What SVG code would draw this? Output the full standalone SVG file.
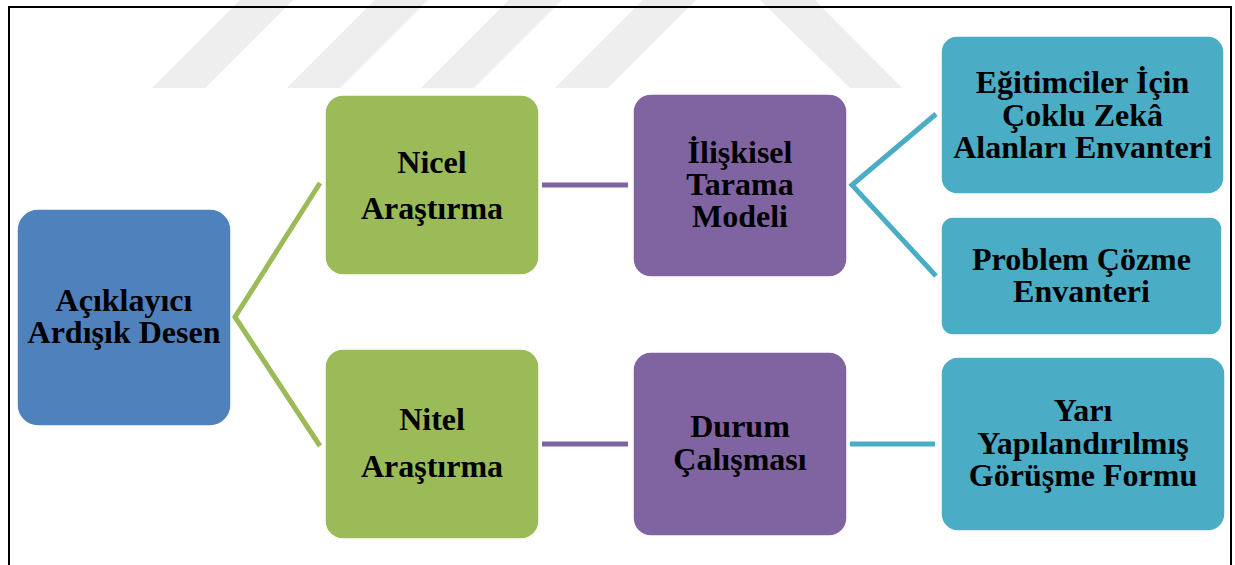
<svg xmlns="http://www.w3.org/2000/svg" width="1235" height="565" viewBox="0 0 1235 565">
<style>
.t{font-family:"Liberation Serif","Times New Roman",serif;font-weight:bold;font-size:32px;fill:#000;text-anchor:middle}
.box{stroke:#fff;stroke-width:1.5}
.wm{fill:#EEEEEE}
.frame{stroke:#000;stroke-width:2;fill:none}
.c{fill:none;stroke-width:5;stroke-linecap:butt;stroke-linejoin:miter}
</style>
<rect width="1235" height="565" fill="#fff"/>
<g id="watermark">
<polygon class="wm" points="152,88 205,88 293,0 240,0"/>
<polygon class="wm" points="287,88 340,88 428,0 375,0"/>
<polygon class="wm" points="421,88 474,88 562,0 509,0"/>
<polygon class="wm" points="555,88 608,88 696,0 643,0"/>
<polygon class="wm" points="850,88 902,88 815,0 760,0"/>
</g>
<path class="frame" d="M9,565 V7 H1231 V565"/>
<g id="connectors">
<polyline class="c" stroke="#9BBB59" stroke-width="4.5" points="320,183 235,317 320,446"/>
<line class="c" stroke="#8064A2" x1="542" y1="185" x2="628" y2="185"/>
<line class="c" stroke="#8064A2" x1="542" y1="444" x2="628" y2="444"/>
<polyline class="c" stroke="#4BACC6" points="936,114 852,185 936,276"/>
<line class="c" stroke="#4BACC6" x1="850" y1="444" x2="935" y2="444"/>
</g>
<g id="n1">
<rect class="box" x="17" y="209" width="214" height="217" rx="21" fill="#4F81BD"/>
<text class="t" x="124" y="311">Açıklayıcı</text>
<text class="t" x="124" y="343">Ardışık Desen</text>
</g>
<g id="n2">
<rect class="box" x="325" y="95" width="214" height="180" rx="18" fill="#9BBB59"/>
<text class="t" x="432" y="173">Nicel</text>
<text class="t" x="432" y="219">Araştırma</text>
</g>
<g id="n3">
<rect class="box" x="325" y="349" width="214" height="190" rx="18" fill="#9BBB59"/>
<text class="t" x="432" y="430">Nitel</text>
<text class="t" x="432" y="477">Araştırma</text>
</g>
<g id="n4">
<rect class="box" x="633" y="94" width="214" height="183" rx="18" fill="#8064A2"/>
<text class="t" x="740" y="163">İlişkisel</text>
<text class="t" x="740" y="195">Tarama</text>
<text class="t" x="740" y="227">Modeli</text>
</g>
<g id="n5">
<rect class="box" x="633" y="352" width="214" height="184" rx="18" fill="#8064A2"/>
<text class="t" x="740" y="437">Durum</text>
<text class="t" x="740" y="470">Çalışması</text>
</g>
<g id="n6">
<rect class="box" x="941" y="36" width="283" height="158" rx="16" fill="#4BACC6"/>
<text class="t" x="1082.5" y="93">Eğitimciler İçin</text>
<text class="t" x="1082.5" y="126">Çoklu Zekâ</text>
<text class="t" x="1082.5" y="158">Alanları Envanteri</text>
</g>
<g id="n7">
<rect class="box" x="941" y="217" width="281" height="118" rx="12" fill="#4BACC6"/>
<text class="t" x="1081.5" y="270">Problem Çözme</text>
<text class="t" x="1081.5" y="302">Envanteri</text>
</g>
<g id="n8">
<rect class="box" x="941" y="357" width="284" height="174" rx="17" fill="#4BACC6"/>
<text class="t" x="1083" y="421">Yarı</text>
<text class="t" x="1083" y="454">Yapılandırılmış</text>
<text class="t" x="1083" y="486">Görüşme Formu</text>
</g>
</svg>
